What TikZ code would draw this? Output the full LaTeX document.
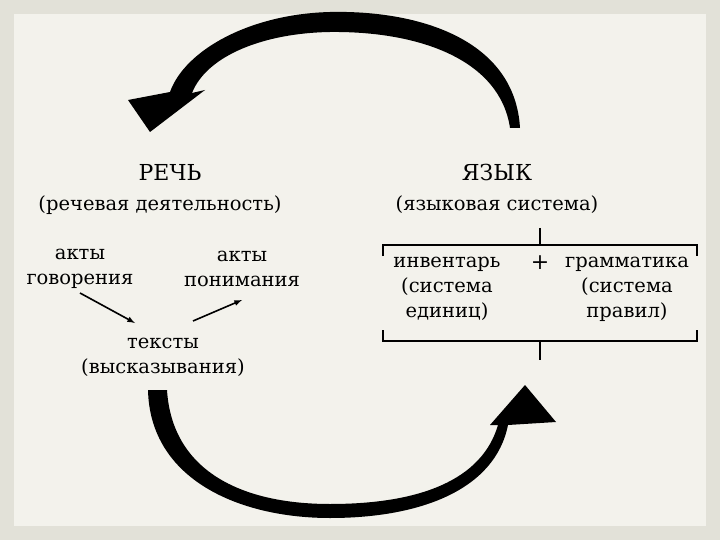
\documentclass[tikz,border=0pt]{standalone}
\usepackage{fontspec}
\setmainfont{DejaVu Serif}
\definecolor{outerbg}{HTML}{E2E1D8}
\definecolor{innerbg}{HTML}{F3F2EC}
\begin{document}
\begin{tikzpicture}[x=1pt,y=-1pt,
 txt/.style={font=\fontsize{19.5}{22}\selectfont,inner sep=0pt},
 big/.style={font=\fontsize{22}{26}\selectfont,inner sep=0pt},
 thin/.style={line width=1.6pt,-latex},
 br/.style={line width=1.5pt}]
\useasboundingbox (0,0) rectangle (720,540);
\fill[outerbg] (0,0) rectangle (720,540);
\fill[innerbg] (14,14) rectangle (706,526);
% top arrow
\fill (520,128) .. controls (515,40) and (420,10) .. (330,12)
  .. controls (250,14) and (185,50) .. (170,92)
  -- (128,100) -- (150,132) -- (205,90) -- (192,93)
  .. controls (207,55) and (265,33) .. (330,32)
  .. controls (420,31) and (500,60) .. (510,128) -- cycle;
% bottom arrow
\fill (148,390) .. controls (150,480) and (240,518) .. (330,518)
  .. controls (420,518) and (495,490) .. (508,425)
  -- (556,422) -- (525,385) -- (490,425) -- (498,425)
  .. controls (482,480) and (420,504) .. (330,504)
  .. controls (240,504) and (172,470) .. (167,390) -- cycle;
\node[big] (rech) at (170,172) {РЕЧЬ};
\node[txt] (rd) at (160,205) {(речевая деятельность)};
\node[big] (yaz) at (497,172) {ЯЗЫК};
\node[txt] (ys) at (497,205) {(языковая система)};
\node[txt,align=center] (ag) at (80,269) {акты\\[3pt]говорения};
\node[txt,align=center] (ap) at (242,269) {акты\\[3pt]понимания};
\node[txt,align=center] (tx) at (163,357) {тексты\\[3pt](высказывания)};
\coordinate (a1) at (80,293); \coordinate (a2) at (135,323);
\coordinate (b1) at (193,321); \coordinate (b2) at (242,300);
\draw[thin] (a1) -- (a2);
\draw[thin] (b1) -- (b2);
\node[txt,align=center] (inv) at (447,289) {инвентарь\\[3pt](система\\[3pt]единиц)};
\node[big] (plus) at (540,263) {+};
\node[txt,align=center] (gr) at (627,289) {грамматика\\[3pt](система\\[3pt]правил)};
\draw[br] (383,256) -- (383,245) -- (697,245) -- (697,256);
\draw[br] (540,228) -- (540,245);
\draw[br] (383,330) -- (383,341) -- (697,341) -- (697,330);
\draw[br] (540,341) -- (540,360);
\end{tikzpicture}
\end{document}
